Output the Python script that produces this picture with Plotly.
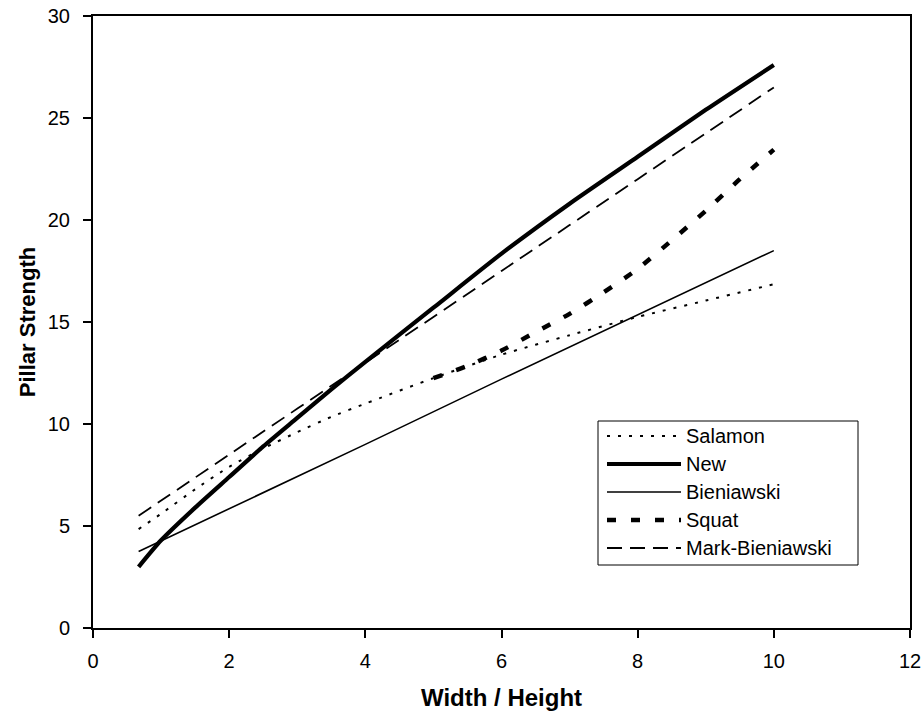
import plotly.graph_objects as go

# Width-to-height ratios and pillar strength estimates for each formula
ratio_main = [0.67, 1, 1.5, 2, 2.5, 3, 3.5, 4, 5, 6, 7, 8, 9, 10]
salamon = [4.85, 5.6, 6.8, 7.9, 8.8, 9.6, 10.35, 11.0, 12.25, 13.4, 14.35, 15.25, 16.05, 16.85]
new = [3.0, 4.3, 5.9, 7.4, 8.9, 10.3, 11.7, 13.05, 15.7, 18.35, 20.8, 23.1, 25.4, 27.6]

ratio_bien = [0.67, 2, 4, 6, 8, 10]
bieniawski = [3.75, 5.85, 9.0, 12.2, 15.35, 18.5]
mark_bieniawski = [5.5, 8.5, 13.0, 17.5, 22.0, 26.5]

ratio_squat = [5, 5.5, 6, 6.5, 7, 7.5, 8, 8.5, 9, 9.5, 10]
squat = [12.25, 12.85, 13.6, 14.5, 15.4, 16.45, 17.6, 19.0, 20.45, 22.0, 23.45]

x_ticks = [0, 2, 4, 6, 8, 10, 12]
y_ticks = [0, 5, 10, 15, 20, 25, 30]

FONT = "Liberation Sans, Arial, sans-serif"
W, H = 924, 717
L, R, T, B = 93, 14, 16, 89

styles = {
    "Salamon": dict(width=2, dash="3px,8px"),
    "New": dict(width=4.2, dash="solid"),
    "Bieniawski": dict(width=1.6, dash="solid"),
    "Squat": dict(width=4.5, dash="9px,15px"),
    "Mark-Bieniawski": dict(width=1.8, dash="15px,8px"),
}
series = [
    ("Salamon", ratio_main, salamon, "spline"),
    ("New", ratio_main, new, "spline"),
    ("Bieniawski", ratio_bien, bieniawski, "linear"),
    ("Squat", ratio_squat, squat, "spline"),
    ("Mark-Bieniawski", ratio_bien, mark_bieniawski, "spline"),
]

fig = go.Figure()
for name, xs, ys, shape in series:
    st = styles[name]
    fig.add_trace(go.Scatter(
        x=xs, y=ys, mode="lines", name=name, showlegend=False,
        line=dict(color="black", width=st["width"], dash=st["dash"],
                  shape=shape, smoothing=0.6),
    ))

# Hand-built legend box in the lower right of the plot
pw, ph = W - L - R, H - T - B


def px_x(p):
    return (p - L) / pw


def px_y(p):
    return (H - B - p) / ph


shapes = [dict(type="rect", xref="paper", yref="paper",
               x0=px_x(598), x1=px_x(858), y0=px_y(565), y1=px_y(421),
               line=dict(color="black", width=1), fillcolor="white", layer="above")]
annotations = []
for i, (name, _, _, _) in enumerate(series):
    yy = px_y(436 + 28 * i)
    st = styles[name]
    shapes.append(dict(type="line", xref="paper", yref="paper",
                       x0=px_x(607), x1=px_x(681), y0=yy, y1=yy, layer="above",
                       line=dict(color="black", width=st["width"], dash=st["dash"])))
    annotations.append(dict(xref="paper", yref="paper", x=px_x(684), y=yy,
                            text=name, showarrow=False, xanchor="left", yanchor="middle",
                            font=dict(family=FONT, size=20, color="black")))

fig.update_layout(
    width=W, height=H,
    margin=dict(l=L, r=R, t=T, b=B, autoexpand=False),
    paper_bgcolor="white", plot_bgcolor="white",
    font=dict(family=FONT, size=20, color="black"),
    shapes=shapes, annotations=annotations,
    xaxis=dict(
        range=[0, 12], tickvals=x_ticks, ticktext=[str(v) for v in x_ticks],
        showgrid=False, zeroline=False, showline=True, linecolor="black", linewidth=2,
        mirror=True, ticks="outside", ticklen=8, tickwidth=2, tickcolor="black",
        tickfont=dict(family=FONT, size=20), ticklabelstandoff=6, automargin=False,
        title=dict(text="<b>Width / Height</b>", font=dict(family=FONT, size=24), standoff=18),
    ),
    yaxis=dict(
        range=[0, 30], tickvals=y_ticks, ticktext=[str(v) for v in y_ticks],
        showgrid=False, zeroline=False, showline=True, linecolor="black", linewidth=2,
        mirror=True, ticks="outside", ticklen=8, tickwidth=2, tickcolor="black",
        tickfont=dict(family=FONT, size=20), ticklabelstandoff=9, automargin=False,
        title=dict(text="<b>Pillar Strength</b>", font=dict(family=FONT, size=22), standoff=6),
    ),
)

fig.write_html("out.html")
